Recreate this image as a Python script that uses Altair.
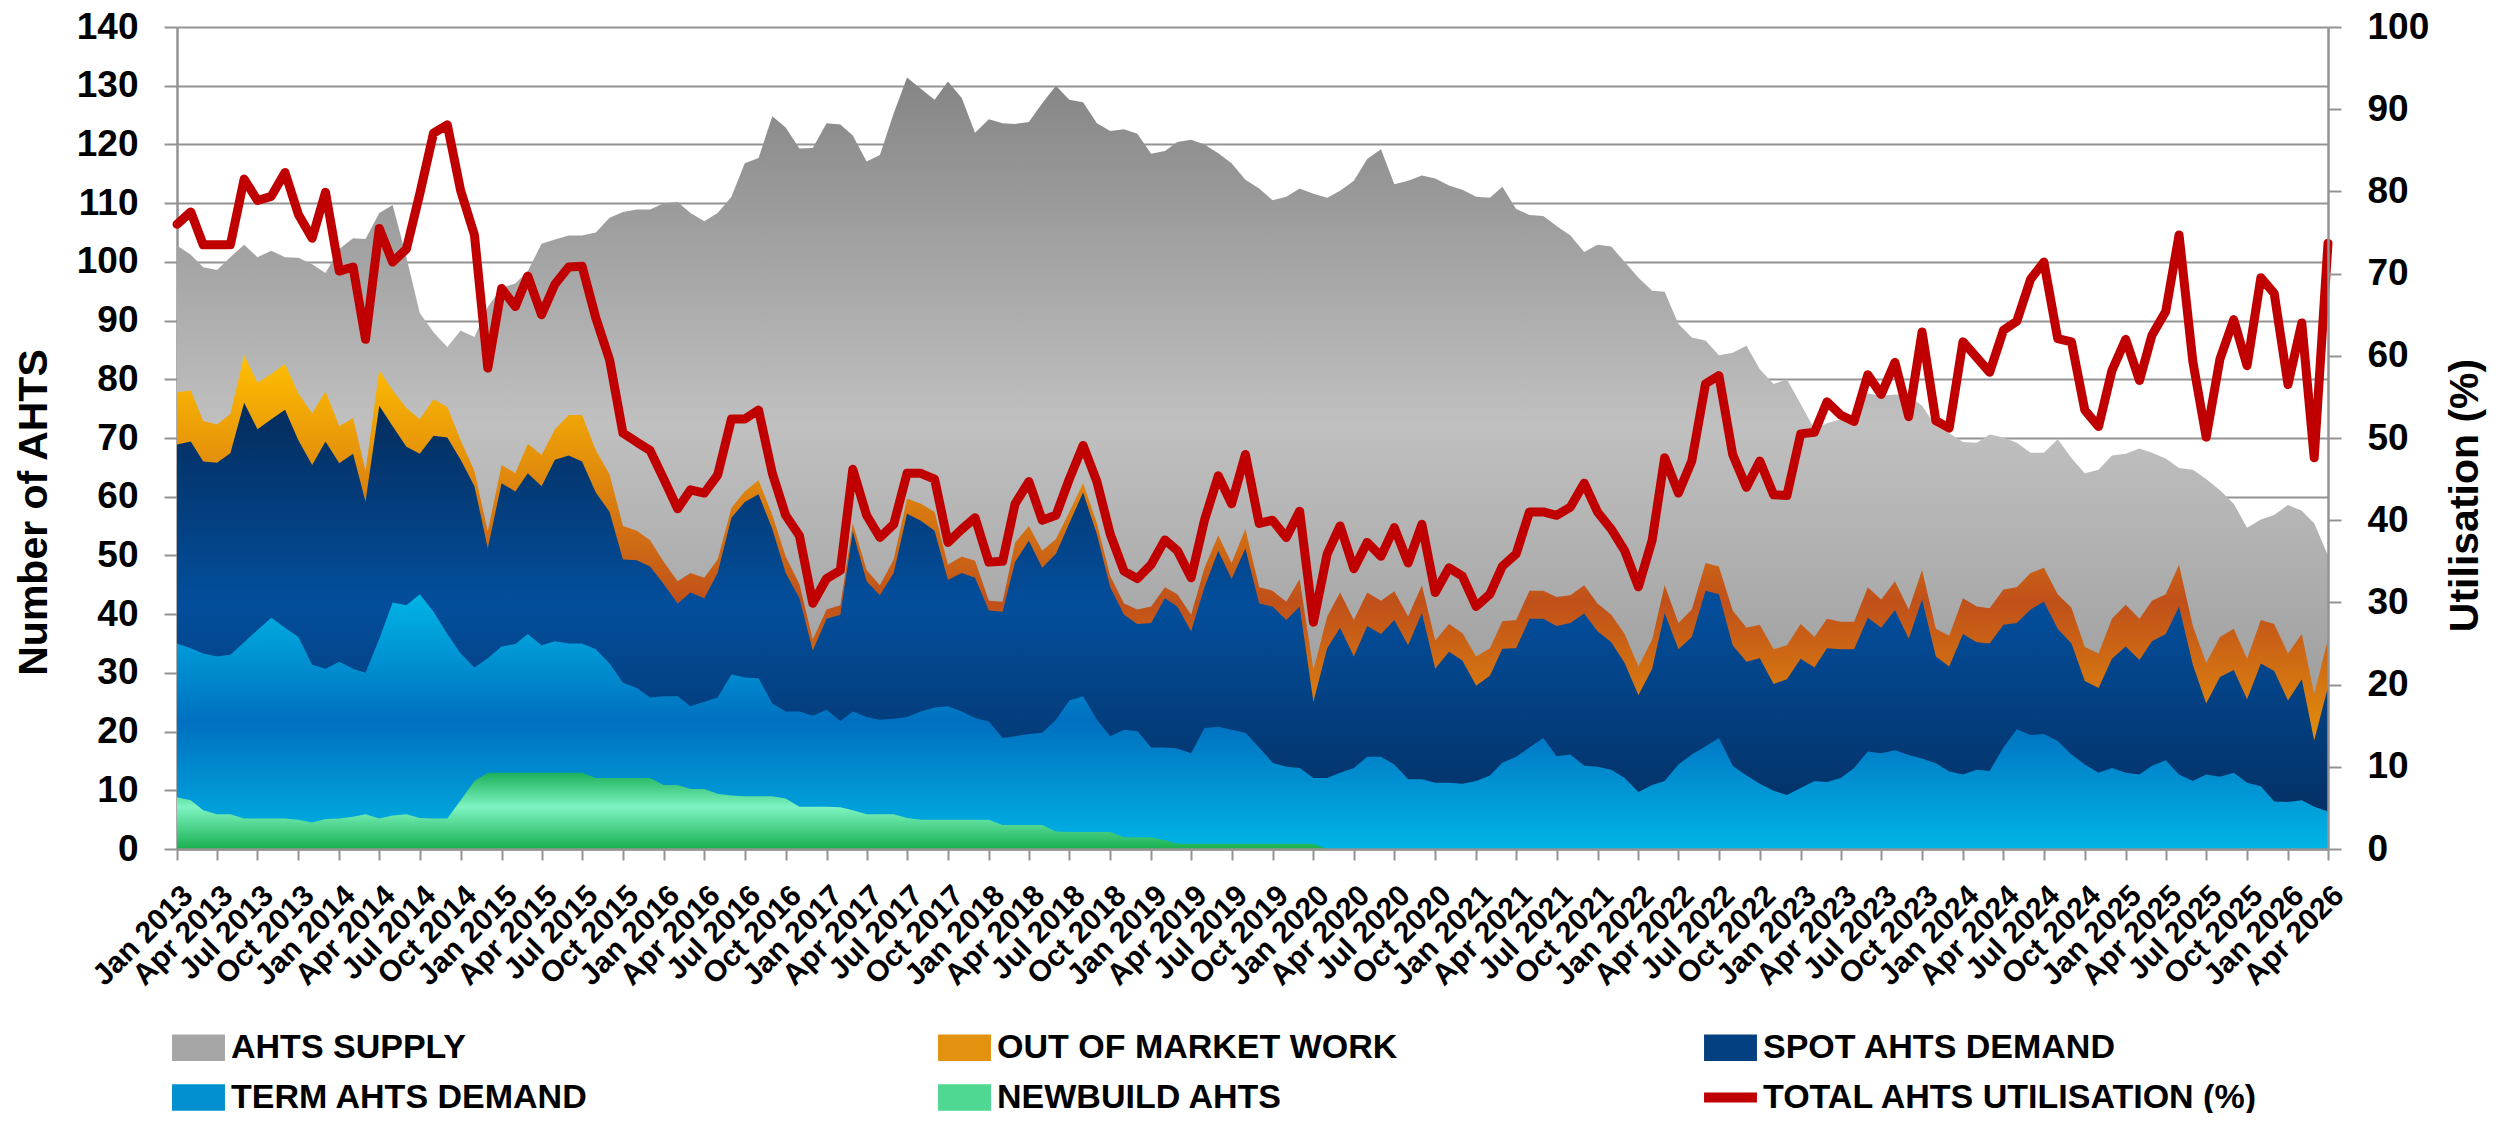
import altair as alt
import pandas as pd

# ---------------- data ----------------
months = pd.date_range("2013-01-01", periods=160, freq="MS")

ahts_supply = [
    102.8, 101.2, 99.1, 98.6, 100.8, 102.9, 100.8, 101.9, 100.8, 100.7,
    99.6, 98.1, 102.2, 104.0, 103.9, 108.3, 109.7, 100.8, 91.3, 88.0,
    85.5, 88.3, 87.2, 92.3, 95.6, 96.3, 98.4, 103.1, 103.8, 104.5,
    104.5, 105.0, 107.5, 108.5, 108.9, 108.9, 110.0, 110.2, 108.3, 106.9,
    108.3, 111.1, 116.8, 117.7, 124.8, 122.9, 119.3, 119.4, 123.6, 123.4,
    121.5, 117.1, 118.2, 125.3, 131.4, 129.5, 127.6, 130.7, 127.9, 122.0,
    124.3, 123.6, 123.5, 123.8, 127.0, 130.0, 127.6, 127.2, 123.6, 122.3,
    122.6, 121.8, 118.4, 118.9, 120.4, 120.8, 120.0, 118.5, 116.8, 114.0,
    112.5, 110.5, 111.1, 112.5, 111.6, 110.9, 112.1, 113.8, 117.5, 119.2,
    113.2, 113.8, 114.7, 114.2, 113.0, 112.3, 111.1, 110.9, 112.8, 109.0,
    108.0, 107.8, 106.1, 104.5, 101.7, 102.9, 102.6, 100.0, 97.3, 95.1,
    94.9, 89.4, 87.1, 86.6, 84.1, 84.5, 85.7, 81.7, 79.2, 80.0,
    75.8, 71.5, 72.5, 73.2, 74.1, 77.6, 77.2, 77.4, 77.2, 75.5,
    72.0, 70.8, 69.3, 69.2, 70.6, 70.1, 69.2, 67.5, 67.5, 69.8,
    66.6, 64.0, 64.6, 67.0, 67.3, 68.2, 67.5, 66.5, 64.9, 64.6,
    63.0, 61.1, 58.8, 54.7, 56.1, 56.9, 58.6, 57.6, 55.5, 50.0,
]

out_of_market_work = [
    77.8, 78.1, 72.9, 72.3, 74.1, 84.1, 79.4, 80.9, 82.6, 77.6,
    74.2, 77.9, 72.0, 73.4, 64.4, 81.6, 78.1, 75.1, 73.2, 76.6,
    75.3, 69.6, 64.4, 54.1, 65.4, 64.0, 69.0, 67.1, 71.5, 73.9,
    73.9, 67.9, 63.8, 55.0, 54.2, 52.6, 48.9, 45.6, 47.0, 46.2,
    49.3, 58.1, 60.9, 62.8, 56.9, 49.8, 45.1, 35.7, 40.8, 41.5,
    55.5, 47.5, 44.9, 49.3, 59.7, 58.8, 57.4, 48.4, 49.8, 49.1,
    42.3, 42.1, 52.2, 55.0, 50.8, 52.8, 57.4, 62.3, 55.5, 46.5,
    41.8, 40.8, 41.3, 44.6, 43.4, 39.9, 47.9, 53.4, 48.7, 54.5,
    44.6, 44.0, 42.1, 46.0, 30.5, 39.6, 43.7, 39.0, 43.7, 42.3,
    43.9, 39.6, 44.9, 35.5, 38.3, 36.8, 32.8, 34.2, 38.8, 39.0,
    44.0, 44.0, 42.9, 43.2, 44.9, 41.8, 39.9, 36.6, 31.1, 35.7,
    44.9, 38.5, 40.8, 48.7, 48.1, 40.6, 37.7, 38.2, 34.0, 34.7,
    38.3, 36.1, 39.2, 38.7, 38.7, 44.6, 42.5, 45.6, 40.8, 47.5,
    37.5, 36.3, 42.7, 41.3, 41.0, 44.2, 44.6, 47.0, 47.9, 43.4,
    41.1, 34.4, 33.3, 39.2, 41.6, 39.2, 42.3, 43.4, 48.4, 38.0,
    31.7, 36.1, 37.5, 32.4, 39.0, 38.3, 33.3, 36.6, 26.4, 35.7,
]

spot_ahts_demand = [
    68.9, 69.4, 66.0, 65.8, 67.4, 76.0, 71.5, 73.2, 74.8, 69.6,
    65.4, 69.4, 65.7, 67.3, 59.2, 75.5, 72.0, 68.5, 67.3, 70.4,
    70.1, 66.3, 61.8, 51.2, 62.3, 60.9, 64.0, 61.8, 66.3, 67.0,
    66.0, 60.7, 57.4, 49.3, 49.2, 48.1, 45.1, 41.8, 43.7, 42.7,
    47.0, 56.4, 59.1, 60.4, 54.5, 47.0, 42.7, 33.8, 39.2, 39.9,
    54.1, 45.6, 43.2, 47.0, 57.1, 55.9, 54.2, 45.8, 47.0, 46.2,
    40.6, 40.4, 48.9, 52.5, 47.9, 50.3, 55.5, 60.7, 53.6, 44.6,
    39.9, 38.3, 38.5, 42.7, 41.3, 37.1, 44.6, 50.8, 46.0, 51.2,
    41.8, 41.3, 39.0, 41.3, 25.1, 34.2, 37.7, 32.8, 38.0, 36.6,
    39.0, 34.7, 40.2, 30.7, 33.6, 32.1, 27.8, 29.5, 34.1, 34.2,
    39.2, 39.2, 38.0, 38.5, 40.1, 37.1, 35.2, 31.7, 26.2, 30.7,
    40.2, 34.0, 36.1, 44.0, 43.4, 34.7, 31.9, 32.5, 28.1, 28.9,
    32.4, 30.9, 34.2, 34.0, 34.0, 39.4, 37.7, 40.7, 35.8, 42.5,
    32.8, 31.1, 36.6, 35.2, 35.0, 38.2, 38.5, 40.8, 42.1, 37.5,
    35.0, 28.6, 27.4, 32.4, 34.5, 32.2, 35.4, 36.6, 41.3, 31.4,
    24.8, 29.3, 30.5, 25.5, 31.6, 30.3, 25.3, 28.9, 18.5, 27.6,
]

term_ahts_demand = [
    35.0, 34.2, 33.3, 32.8, 33.1, 35.2, 37.3, 39.4, 37.7, 36.1,
    31.4, 30.7, 31.9, 30.7, 30.0, 35.8, 42.0, 41.5, 43.4, 40.4,
    36.6, 33.3, 30.9, 32.5, 34.5, 34.9, 36.6, 34.7, 35.4, 35.0,
    35.0, 34.0, 31.6, 28.3, 27.4, 25.8, 26.0, 26.0, 24.3, 25.1,
    25.8, 29.7, 29.2, 29.1, 24.8, 23.4, 23.4, 22.7, 23.7, 21.8,
    23.4, 22.5, 22.0, 22.2, 22.5, 23.4, 24.1, 24.3, 23.4, 22.3,
    21.7, 18.9, 19.2, 19.6, 19.8, 22.0, 25.3, 26.0, 22.0, 19.2,
    20.3, 20.1, 17.3, 17.3, 17.1, 16.3, 20.6, 20.8, 20.3, 19.8,
    17.3, 14.7, 14.0, 13.8, 12.1, 12.1, 13.0, 13.8, 15.7, 15.7,
    14.4, 11.9, 11.9, 11.3, 11.3, 11.1, 11.6, 12.5, 14.7, 15.7,
    17.3, 18.9, 15.8, 16.1, 14.2, 14.0, 13.5, 12.1, 9.7, 10.9,
    11.6, 14.4, 16.1, 17.5, 18.9, 14.2, 12.5, 11.1, 9.9, 9.2,
    10.4, 11.6, 11.4, 12.1, 13.8, 16.6, 16.3, 16.8, 16.0, 15.4,
    14.6, 13.2, 12.7, 13.5, 13.3, 17.3, 20.4, 19.4, 19.6, 18.4,
    16.1, 14.4, 13.0, 13.8, 13.0, 12.7, 14.2, 15.1, 12.7, 11.6,
    12.7, 12.3, 13.0, 11.3, 10.7, 8.1, 8.0, 8.3, 7.2, 6.4,
]

newbuild_ahts = [
    8.8, 8.3, 6.6, 5.9, 5.9, 5.2, 5.2, 5.2, 5.2, 5.0,
    4.5, 5.1, 5.2, 5.5, 5.9, 5.2, 5.7, 5.9, 5.3, 5.2,
    5.2, 8.3, 11.6, 13.0, 13.0, 13.0, 13.0, 13.0, 13.0, 13.0,
    13.0, 12.1, 12.1, 12.1, 12.1, 12.1, 10.9, 10.9, 10.2, 10.2,
    9.4, 9.1, 9.0, 9.0, 9.0, 8.6, 7.2, 7.2, 7.2, 7.1,
    6.6, 5.9, 5.9, 5.9, 5.3, 5.0, 5.0, 5.0, 5.0, 5.0,
    5.0, 4.1, 4.1, 4.1, 4.1, 3.0, 2.9, 2.9, 2.9, 2.9,
    2.0, 2.0, 2.0, 1.5, 0.9, 0.9, 0.9, 0.9, 0.9, 0.9,
    0.9, 0.9, 0.9, 0.9, 0.9, 0.0, 0.0, 0.0, 0.0, 0.0,
    0.0, 0.0, 0.0, 0.0, 0.0, 0.0, 0.0, 0.0, 0.0, 0.0,
    0.0, 0.0, 0.0, 0.0, 0.0, 0.0, 0.0, 0.0, 0.0, 0.0,
    0.0, 0.0, 0.0, 0.0, 0.0, 0.0, 0.0, 0.0, 0.0, 0.0,
    0.0, 0.0, 0.0, 0.0, 0.0, 0.0, 0.0, 0.0, 0.0, 0.0,
    0.0, 0.0, 0.0, 0.0, 0.0, 0.0, 0.0, 0.0, 0.0, 0.0,
    0.0, 0.0, 0.0, 0.0, 0.0, 0.0, 0.0, 0.0, 0.0, 0.0,
    0.0, 0.0, 0.0, 0.0, 0.0, 0.0, 0.0, 0.0, 0.0, 0.0,
]

total_utilisation = [
    76.0, 77.5, 73.5, 73.5, 73.5, 81.5, 78.9, 79.4, 82.3, 77.2,
    74.3, 79.9, 70.3, 70.8, 62.0, 75.5, 71.4, 73.0, 79.7, 87.1,
    88.1, 80.1, 74.7, 58.5, 68.2, 66.0, 69.7, 65.0, 68.7, 70.8,
    70.9, 64.6, 59.5, 50.6, 49.5, 48.5, 45.0, 41.4, 43.7, 43.3,
    45.5, 52.3, 52.3, 53.4, 45.7, 40.6, 38.1, 29.9, 32.9, 33.9,
    46.2, 40.6, 37.9, 39.5, 45.7, 45.7, 45.0, 37.3, 38.9, 40.3,
    34.9, 35.0, 42.0, 44.7, 40.0, 40.6, 45.0, 49.1, 44.7, 38.3,
    33.8, 32.9, 34.6, 37.6, 36.3, 33.0, 40.0, 45.4, 42.0, 48.0,
    39.6, 40.0, 37.9, 41.1, 27.6, 35.9, 39.3, 34.1, 37.3, 35.6,
    39.1, 34.8, 39.5, 31.2, 34.2, 33.2, 29.5, 31.0, 34.4, 35.9,
    41.0, 41.0, 40.6, 41.6, 44.5, 41.0, 38.9, 36.3, 31.9, 37.6,
    47.6, 43.3, 47.2, 56.6, 57.6, 48.0, 44.0, 47.2, 43.1, 43.0,
    50.5, 50.7, 54.4, 52.8, 52.0, 57.7, 55.3, 59.2, 52.6, 62.9,
    52.1, 51.2, 61.7, 59.8, 58.0, 63.1, 64.2, 69.3, 71.4, 62.1,
    61.7, 53.4, 51.4, 58.2, 62.0, 57.0, 62.5, 65.4, 74.7, 59.3,
    50.1, 59.6, 64.4, 58.8, 69.5, 67.6, 56.5, 64.0, 47.6, 73.7,
]

series_names = [
    "AHTS SUPPLY",
    "OUT OF MARKET WORK",
    "SPOT AHTS DEMAND",
    "TERM AHTS DEMAND",
    "NEWBUILD AHTS",
    "TOTAL AHTS UTILISATION (%)",
]
legend_colors = ["#a6a6a6", "#e3920f", "#03407f", "#0390d0", "#4fd892", "#c00000"]
RECT = "M-1,-0.5H1V0.5H-1Z"
BAR = "M-1,-0.19H1V0.19H-1Z"
legend_shapes = [RECT, RECT, RECT, RECT, RECT, BAR]

# ---------------- tables ----------------
area_series = {
    "AHTS SUPPLY": ahts_supply,
    "OUT OF MARKET WORK": out_of_market_work,
    "SPOT AHTS DEMAND": spot_ahts_demand,
    "TERM AHTS DEMAND": term_ahts_demand,
    "NEWBUILD AHTS": newbuild_ahts,
}
long_rows = []
for name, vals in area_series.items():
    for d, v in zip(months, vals):
        long_rows.append({"date": d, "series": name, "value": v})
area_df = pd.DataFrame(long_rows)
util_df = pd.DataFrame({"date": months, "util": total_utilisation})
legend_df = pd.DataFrame({"date": [months[0]] * 6, "series": series_names, "value": [-50] * 6})

# ---------------- styling ----------------
FONT = "Liberation Sans"
GRID = "#939393"


def vgrad(stops):
    return alt.Gradient(
        gradient="linear",
        stops=[alt.GradientStop(color=c, offset=o) for o, c in stops],
        x1=0, x2=0, y1=0, y2=1,
    )


gradients = {
    "AHTS SUPPLY": vgrad([(0, "#858585"), (0.45, "#c0c0c0"), (1, "#8c8c8c")]),
    "OUT OF MARKET WORK": vgrad([(0, "#ffc000"), (0.5, "#c0501a"), (1, "#ffc000")]),
    "SPOT AHTS DEMAND": vgrad([(0, "#042c5c"), (0.45, "#034e9c"), (1, "#042c5c")]),
    "TERM AHTS DEMAND": vgrad([(0, "#00b5e6"), (0.5, "#0070c0"), (1, "#00b5e6")]),
    "NEWBUILD AHTS": vgrad([(0, "#1cb05a"), (0.45, "#7ef4c2"), (1, "#19b050")]),
}

x_enc = alt.X(
    "date:T",
    scale=alt.Scale(domain=[alt.DateTime(year=2013, month=1, date=1),
                            alt.DateTime(year=2026, month=4, date=1)]),
    axis=alt.Axis(
        title=None, format="%b %Y", tickCount={"interval": "month", "step": 3},
        labelAngle=-45, labelAlign="right", labelBaseline="top",
        labelFont=FONT, labelFontSize=30, labelFontWeight="bold", labelColor="black",
        labelPadding=20, labelOverlap=False, labelBound=False, labelFlush=False,
        grid=False, domainColor=GRID, domainWidth=2.5, tickColor=GRID, tickWidth=2,
        tickSize=11, zindex=1,
    ),
)

left_axis = alt.Axis(
    title="Number of AHTS", values=list(range(0, 141, 10)),
    grid=True, gridColor=GRID, gridWidth=2,
    domainColor=GRID, domainWidth=2.5, tickColor=GRID, tickWidth=2, tickSize=13,
    labelFont=FONT, labelFontSize=37, labelFontWeight="bold", labelColor="black", labelPadding=26,
    titleFont=FONT, titleFontSize=41, titleFontWeight="bold", titleColor="black",
    titleAngle=270, titleAlign="center", titleBaseline="middle", titleX=-143, titleY=485,
)
y_left = alt.Y("value:Q", scale=alt.Scale(domain=[0, 140], nice=False, zero=True), axis=left_axis)

layers = []
for name in area_series:
    layers.append(
        alt.Chart(area_df)
        .transform_filter(alt.datum.series == name)
        .mark_area(color=gradients[name], interpolate="linear", clip=True)
        .encode(x=x_enc, y=y_left)
    )

legend_cfg = alt.Legend(
    title=None, orient="none", legendX=-5, legendY=994, columns=3, direction="horizontal",
    gridAlign="all", columnPadding=212, rowPadding=6,
    labelFont=FONT, labelFontSize=34, labelFontWeight="bold", labelColor="black",
    labelLimit=0, labelOffset=6, symbolSize=2800, symbolStrokeWidth=0, symbolOpacity=1,
)
legend_layer = (
    alt.Chart(legend_df)
    .mark_point(filled=True, clip=True, size=2800)
    .encode(
        x=x_enc, y=y_left,
        color=alt.Color("series:N", scale=alt.Scale(domain=series_names, range=legend_colors),
                        legend=legend_cfg, sort=series_names),
        shape=alt.Shape("series:N", scale=alt.Scale(domain=series_names, range=legend_shapes),
                        legend=legend_cfg, sort=series_names),
    )
)
layers.append(legend_layer)
left = alt.layer(*layers)

right_axis = alt.Axis(
    title="Utilisation (%)", orient="right", values=list(range(0, 101, 10)), grid=False,
    domainColor=GRID, domainWidth=2.5, tickColor=GRID, tickWidth=2, tickSize=13,
    labelFont=FONT, labelFontSize=37, labelFontWeight="bold", labelColor="black", labelPadding=26,
    titleFont=FONT, titleFontSize=41, titleFontWeight="bold", titleColor="black",
    titleAngle=270, titleAlign="center", titleBaseline="middle", titleX=137, titleY=468, zindex=1,
)
line = (
    alt.Chart(util_df)
    .mark_line(color="#c00000", strokeWidth=9, strokeJoin="round", strokeCap="round")
    .encode(x=x_enc, y=alt.Y("util:Q", scale=alt.Scale(domain=[0, 100], nice=False), axis=right_axis))
)

chart = (
    alt.layer(left, line)
    .resolve_scale(y="independent")
    .properties(
        width=2151, height=822,
        autosize=alt.AutoSizeParams(type="none"),
        padding={"left": 169, "top": 19, "right": 160, "bottom": 264},
        background="white",
    )
    .configure_view(stroke=None)
)

chart.save("out.html", embed_options={"renderer": "svg", "actions": False})
